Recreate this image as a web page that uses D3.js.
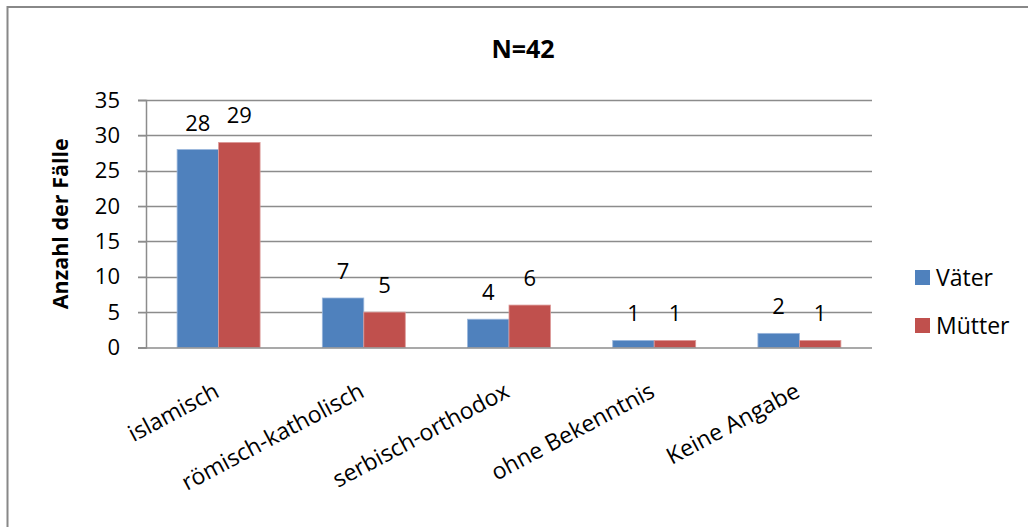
<!DOCTYPE html>
<html>
<head>
<meta charset="utf-8">
<script src="https://cdn.jsdelivr.net/npm/d3@7"></script>
<style>
  html, body { margin: 0; padding: 0; background: #fff; }
  svg { display: block; }
  text { font-family: "Open Sans", sans-serif; fill: #000; }
</style>
</head>
<body>
<svg id="chart" width="1028" height="527"></svg>
<script>
// Religionszugehörigkeit der Eltern
const categories = ["islamisch", "römisch-katholisch", "serbisch-orthodox", "ohne Bekenntnis", "Keine Angabe"];
const seriesNames = ["Väter", "Mütter"];
const vaeter = [28, 7, 4, 1, 2];
const muetter = [29, 5, 6, 1, 1];
const yTicks = [0, 5, 10, 15, 20, 25, 30, 35];
const title = "N=42";
const yTitle = "Anzahl der Fälle";
const colors = ["#4F81BD", "#C0504D"];

const FONT = "'Open Sans', sans-serif";
const NUM_SIZE = 22;
const LABEL_SIZE = 23;

const svg = d3.select("#chart");

// outer frame (open to the right and bottom)
svg.append("rect")
  .attr("x", 7.5).attr("y", 7)
  .attr("width", 1040).attr("height", 540)
  .attr("fill", "none").attr("stroke", "#888").attr("stroke-width", 2);

const plot = { left: 146, right: 872, top: 100, bottom: 347.5 };

const x0 = d3.scaleBand().domain(categories).range([plot.left, plot.right]).paddingInner(0).paddingOuter(0);
const innerPad = 0.75 / 3.5; // gap of 150% of one bar on each group
const x1 = d3.scaleBand().domain(seriesNames)
  .range([x0.bandwidth() * innerPad, x0.bandwidth() * (1 - innerPad)]);
const y = d3.scaleLinear().domain([0, 35]).range([plot.bottom, plot.top]);

// grid lines
svg.append("g").selectAll("line").data(yTicks.filter(d => d > 0)).join("line")
  .attr("x1", plot.left - 8).attr("x2", plot.right)
  .attr("y1", d => Math.round(y(d)) + 0.5).attr("y2", d => Math.round(y(d)) + 0.5)
  .attr("stroke", "#8c8c8c").attr("stroke-width", 1.3);

// y axis
const yAxis = d3.axisLeft(y).tickValues(yTicks).tickSize(8).tickPadding(18).tickFormat(d3.format("d"));
const yg = svg.append("g").attr("transform", `translate(${plot.left},0)`).call(yAxis);
yg.select(".domain").attr("stroke", "#8c8c8c").attr("stroke-width", 1.5);
yg.selectAll(".tick line").attr("stroke", "#8c8c8c").attr("stroke-width", 1.3);
yg.selectAll(".tick text").attr("font-family", FONT).attr("font-size", NUM_SIZE).attr("fill", "#000");

// bars
const data = categories.map((c, i) => ({ cat: c, values: [vaeter[i], muetter[i]] }));
const groups = svg.append("g").selectAll("g").data(data).join("g")
  .attr("transform", d => `translate(${x0(d.cat)},0)`);

groups.selectAll("rect").data(d => d.values.map((v, k) => ({ name: seriesNames[k], v, k }))).join("rect")
  .attr("x", d => x1(d.name))
  .attr("width", x1.bandwidth())
  .attr("y", d => y(d.v))
  .attr("height", d => y(0) - y(d.v))
  .attr("fill", d => colors[d.k])
  .attr("stroke", d => d.k === 0 ? "#9bb7dc" : "#dc9a98")
  .attr("stroke-width", 0.8);

// value labels
groups.selectAll("text").data(d => d.values.map((v, k) => ({ name: seriesNames[k], v, k }))).join("text")
  .attr("x", d => x1(d.name) + x1.bandwidth() / 2)
  .attr("y", d => y(d.v) - 19)
  .attr("text-anchor", "middle")
  .attr("font-size", NUM_SIZE)
  .text(d => d.v);

// x axis line
svg.append("line")
  .attr("x1", plot.left - 8).attr("x2", plot.right)
  .attr("y1", plot.bottom + 0.5).attr("y2", plot.bottom + 0.5)
  .attr("stroke", "#8c8c8c").attr("stroke-width", 1.5);

// rotated category labels
svg.append("g").selectAll("text").data(categories).join("text")
  .attr("text-anchor", "end")
  .attr("font-size", LABEL_SIZE)
  .attr("transform", d => `translate(${x0(d) + x0.bandwidth() / 2 + 2},396) rotate(-28)`)
  .text(d => d);

// title
svg.append("text")
  .attr("x", 523).attr("y", 58)
  .attr("text-anchor", "middle")
  .attr("font-size", 25).attr("font-weight", "bold")
  .text(title);

// y axis title
svg.append("text")
  .attr("transform", `translate(68,${(plot.top + plot.bottom) / 2}) rotate(-90)`)
  .attr("text-anchor", "middle")
  .attr("font-size", 21.5).attr("font-weight", "bold")
  .text(yTitle);

// legend
const legend = svg.append("g").selectAll("g").data(seriesNames).join("g")
  .attr("transform", (d, i) => `translate(915,${270 + i * 48})`);
legend.append("rect").attr("width", 15).attr("height", 15).attr("fill", (d, i) => colors[i]);
legend.append("text").attr("x", 21).attr("y", 15.5).attr("font-size", LABEL_SIZE).text(d => d);
</script>
</body>
</html>
